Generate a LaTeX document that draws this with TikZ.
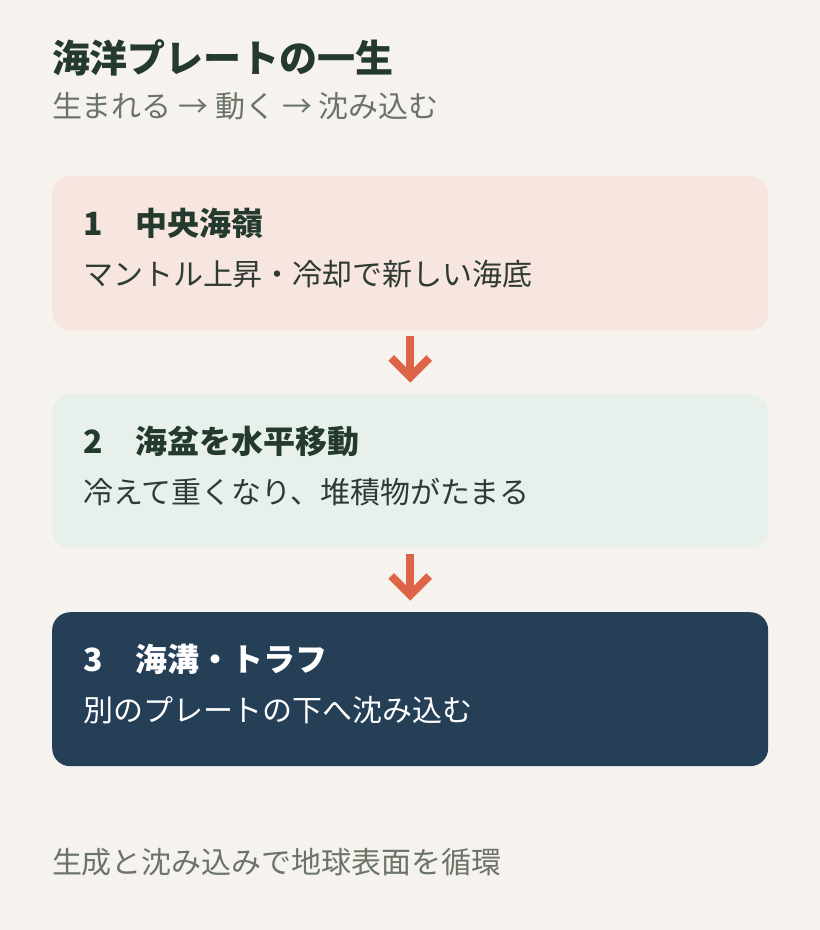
\documentclass[tikz,border=0pt]{standalone}
\usepackage{fontspec}
\setmainfont{Noto Sans CJK JP}
\usetikzlibrary{calc}
\definecolor{bg}{HTML}{F6F3EE}
\definecolor{boxa}{HTML}{F7E6E0}
\definecolor{boxb}{HTML}{E8F0EC}
\definecolor{boxc}{HTML}{253F57}
\definecolor{ink}{HTML}{243A2E}
\definecolor{inksoft}{HTML}{2E3A33}
\definecolor{muted}{HTML}{6B7468}
\definecolor{arrowc}{HTML}{DD6446}
\tikzset{
  panel/.style={rounded corners=18pt, minimum width=716pt, minimum height=154pt, inner sep=0pt, draw=none},
  txt/.style={anchor=west, inner sep=0pt, outer sep=0pt},
  ttl/.style={txt, font=\fontsize{38pt}{44pt}\selectfont\bfseries, text=ink},
  sub/.style={txt, font=\fontsize{30pt}{36pt}\selectfont, text=muted},
  head/.style={txt, font=\fontsize{32pt}{38pt}\selectfont\bfseries},
  desc/.style={txt, font=\fontsize{30pt}{36pt}\selectfont},
  arr/.style={draw=arrowc, line width=8pt, line cap=butt, line join=miter},
}
\begin{document}
\begin{tikzpicture}[x=1pt,y=-1pt]
\fill[bg] (0,0) rectangle (820,930);
\useasboundingbox (0,0) rectangle (820,930);

\node[ttl] (title) at (52,58) {海洋プレートの一生};
\node[sub] (subtitle) at (52,106) {生まれる → 動く → 沈み込む};

\node[panel, fill=boxa, anchor=north west] (b1) at (52,176) {};
\node[panel, fill=boxb, anchor=north west] (b2) at (52,394) {};
\node[panel, fill=boxc, anchor=north west] (b3) at (52,612) {};

\node[head, text=ink] (h1) at (83,223) {1\hspace{33pt}中央海嶺};
\node[desc, text=inksoft] (d1) at (83,274) {マントル上昇・冷却で新しい海底};

\node[head, text=ink] (h2) at (83,441) {2\hspace{33pt}海盆を水平移動};
\node[desc, text=inksoft] (d2) at (83,492) {冷えて重くなり、堆積物がたまる};

\node[head, text=white] (h3) at (83,659) {3\hspace{33pt}海溝・トラフ};
\node[desc, text=white] (d3) at (83,710) {別のプレートの下へ沈み込む};

\draw[arr] ([yshift=-6pt]b1.south) -- ($(b2.north)+(0,-17)$);
\draw[arr] ($(b2.north)+(-19,-36)$) -- ($(b2.north)+(0,-17)$) -- ($(b2.north)+(19,-36)$);

\draw[arr] ([yshift=-6pt]b2.south) -- ($(b3.north)+(0,-17)$);
\draw[arr] ($(b3.north)+(-19,-36)$) -- ($(b3.north)+(0,-17)$) -- ($(b3.north)+(19,-36)$);

\node[sub] (foot) at (52,862) {生成と沈み込みで地球表面を循環};
\end{tikzpicture}
\end{document}
